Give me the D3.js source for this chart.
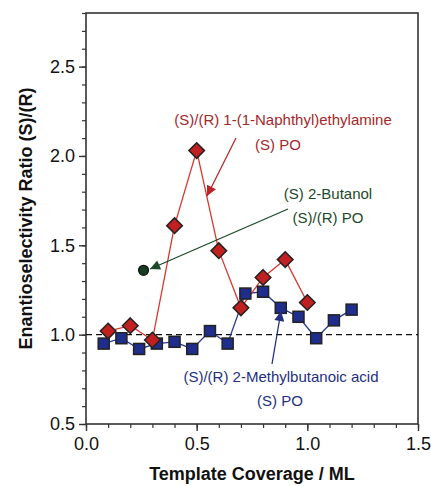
<!DOCTYPE html>
<html><head><meta charset="utf-8">
<script src="https://cdn.jsdelivr.net/npm/d3@7"></script>
<style>body{margin:0;background:#fff}svg text{font-family:"Liberation Sans",Arial,sans-serif}</style>
</head><body><svg id="c" width="431" height="486"></svg>
<script>
const naphX = [0.1, 0.2, 0.3, 0.4, 0.5, 0.6, 0.7, 0.8, 0.9, 1.0];
const naphY = [1.02, 1.05, 0.97, 1.61, 2.03, 1.47, 1.15, 1.32, 1.42, 1.18];
const acidX = [0.08, 0.16, 0.24, 0.32, 0.40, 0.48, 0.56, 0.64, 0.72, 0.80, 0.88, 0.96, 1.04, 1.12, 1.20];
const acidY = [0.95, 0.98, 0.92, 0.95, 0.96, 0.92, 1.02, 0.95, 1.23, 1.24, 1.15, 1.10, 0.98, 1.08, 1.14];
const butX = [0.26];
const butY = [1.36];
const xTicks = [0.0, 0.5, 1.0, 1.5];
const yTicks = [0.5, 1.0, 1.5, 2.0, 2.5];

const svg = d3.select("#c");
const m = {l:86, r:13, t:13, b:62};
const W = 431, H = 486;
const x = d3.scaleLinear().domain([0, 1.5]).range([m.l, W - m.r]);
const y = d3.scaleLinear().domain([0.5, 2.8]).range([H - m.b, m.t]);

// axes
const xMinor = d3.range(0, 1.501, 0.1);
const yMinor = d3.range(0.5, 2.801, 0.1);
svg.append("g").attr("transform", `translate(0,${H-m.b})`)
  .call(d3.axisBottom(x).tickValues(xMinor).tickSize(4).tickFormat(""))
  .call(g => g.select(".domain").remove())
  .selectAll("line").attr("stroke", "#333").attr("stroke-width", 1.2);
svg.append("g").attr("transform", `translate(0,${H-m.b})`)
  .call(d3.axisBottom(x).tickValues(xTicks).tickSize(7).tickPadding(6).tickFormat(d3.format(".1f")))
  .call(g => g.select(".domain").remove())
  .call(g => g.selectAll("line").attr("stroke", "#333").attr("stroke-width", 1.4))
  .call(g => g.selectAll("text").attr("font-size", 18).attr("fill", "#111"));
svg.append("g").attr("transform", `translate(0,0)`).attr("transform", `translate(${m.l},0)`)
  .call(d3.axisLeft(y).tickValues(yMinor).tickSize(4).tickFormat(""))
  .call(g => g.select(".domain").remove())
  .selectAll("line").attr("stroke", "#333").attr("stroke-width", 1.2);
svg.append("g").attr("transform", `translate(${m.l},0)`)
  .call(d3.axisLeft(y).tickValues(yTicks).tickSize(7).tickPadding(4).tickFormat(d3.format(".1f")))
  .call(g => g.select(".domain").remove())
  .call(g => g.selectAll("line").attr("stroke", "#333").attr("stroke-width", 1.4))
  .call(g => g.selectAll("text").attr("font-size", 18).attr("fill", "#111"));

// frame
svg.append("rect").attr("x", m.l).attr("y", m.t).attr("width", W - m.l - m.r).attr("height", H - m.t - m.b)
  .attr("fill", "none").attr("stroke", "#333").attr("stroke-width", 1.6);

// dashed reference
svg.append("line").attr("x1", x(0)).attr("x2", x(1.5)).attr("y1", y(1)).attr("y2", y(1))
  .attr("stroke", "#111").attr("stroke-width", 1.3).attr("stroke-dasharray", "6,4");

// axis titles
svg.append("text").attr("x", (m.l + W - m.r)/2).attr("y", 480).attr("text-anchor", "middle")
  .attr("font-size", 18).attr("font-weight", "bold").attr("fill", "#111").text("Template Coverage / ML");
svg.append("text").attr("transform", `translate(32,${(m.t + H - m.b)/2}) rotate(-90)`).attr("text-anchor", "middle")
  .attr("font-size", 18).attr("font-weight", "bold").attr("fill", "#111").text("Enantioselectivity Ratio (S)/(R)");

// defs for arrowheads
const defs = svg.append("defs");
function marker(id, col){
  defs.append("marker").attr("id", id).attr("viewBox", "0 0 10 10").attr("refX", 10).attr("refY", 5)
    .attr("markerWidth", 14).attr("markerHeight", 10).attr("markerUnits", "userSpaceOnUse").attr("orient", "auto")
    .append("path").attr("d", "M0,0 L10,5 L0,10 Z").attr("fill", col);
}
marker("ar", "#b8252a"); marker("ag", "#1b4a2a"); marker("ab", "#24307f");

const acid = acidX.map((v,i) => [v, acidY[i]]);
const naph = naphX.map((v,i) => [v, naphY[i]]);
const line = d3.line().x(d => x(d[0])).y(d => y(d[1]));

svg.append("path").attr("d", line(acid)).attr("fill", "none").attr("stroke", "#2b3796").attr("stroke-width", 1.3);
svg.append("path").attr("d", line(naph)).attr("fill", "none").attr("stroke", "#d8372e").attr("stroke-width", 1.3);

const s = 11;
svg.append("g").selectAll("rect").data(acid).join("rect")
  .attr("x", d => x(d[0]) - s/2).attr("y", d => y(d[1]) - s/2).attr("width", s).attr("height", s)
  .attr("fill", "#1f2d8c").attr("stroke", "#222").attr("stroke-width", 1.5);
const dsz = 7.8;
svg.append("g").selectAll("path").data(naph).join("path")
  .attr("d", d => { const cx = x(d[0]), cy = y(d[1]); return `M${cx},${cy-dsz}L${cx+dsz},${cy}L${cx},${cy+dsz}L${cx-dsz},${cy}Z`; })
  .attr("fill", "#c0201f").attr("stroke", "#222").attr("stroke-width", 1.5);
svg.append("g").selectAll("circle").data(butX.map((v,i)=>[v,butY[i]])).join("circle")
  .attr("cx", d => x(d[0])).attr("cy", d => y(d[1])).attr("r", 5)
  .attr("fill", "#163d22").attr("stroke", "#111").attr("stroke-width", 1.2);

// annotations
function label(lines, cx, cy, col){
  lines.forEach((t,i) => svg.append("text").attr("x", cx[i]).attr("y", cy[i]).attr("text-anchor", "middle")
    .attr("font-size", 15).attr("fill", col).text(t));
}
label(["(S)/(R) 1-(1-Naphthyl)ethylamine", "(S) PO"], [283, 278], [125, 150], "#a3282b");
label(["(S) 2-Butanol", "(S)/(R) PO"], [328, 328], [199, 223], "#1b4a2a");
label(["(S)/(R) 2-Methylbutanoic acid", "(S) PO"], [281, 280], [382, 406], "#24307f");

svg.append("line").attr("x1", 236).attr("y1", 138).attr("x2", 207).attr("y2", 196)
  .attr("stroke", "#b8252a").attr("stroke-width", 1.3).attr("marker-end", "url(#ar)");
svg.append("line").attr("x1", 288).attr("y1", 209).attr("x2", 150).attr("y2", 269)
  .attr("stroke", "#1b4a2a").attr("stroke-width", 1.3).attr("marker-end", "url(#ag)");
svg.append("line").attr("x1", 272).attr("y1", 364).attr("x2", 281).attr("y2", 311)
  .attr("stroke", "#24307f").attr("stroke-width", 1.3).attr("marker-end", "url(#ab)");
</script></body></html>
